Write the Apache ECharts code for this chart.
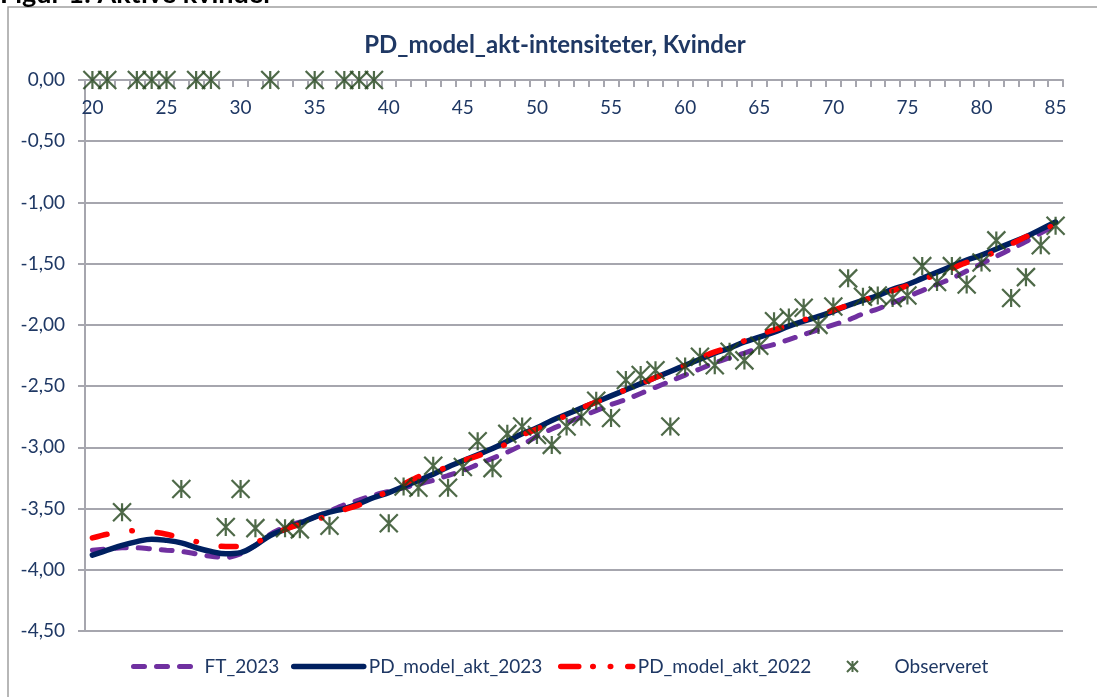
<!DOCTYPE html>
<html><head><meta charset="utf-8">
<script src="https://cdn.jsdelivr.net/npm/echarts@6/dist/echarts.min.js"></script>
<style>html,body{margin:0;padding:0;background:#fff;}#c{width:1097px;height:697px;}</style>
</head><body><div id="c"></div>
<script>
const ages = ['20','21','22','23','24','25','26','27','28','29','30','31','32','33','34','35','36','37','38','39','40','41','42','43','44','45','46','47','48','49','50','51','52','53','54','55','56','57','58','59','60','61','62','63','64','65','66','67','68','69','70','71','72','73','74','75','76','77','78','79','80','81','82','83','84','85'];

const ft2023 = [-3.84,-3.83,-3.82,-3.82,-3.83,-3.84,-3.85,-3.87,-3.89,-3.90,-3.87,-3.80,-3.71,-3.65,-3.61,-3.57,-3.52,-3.47,-3.43,-3.39,-3.36,-3.33,-3.30,-3.27,-3.23,-3.19,-3.14,-3.09,-3.04,-2.98,-2.91,-2.85,-2.80,-2.75,-2.70,-2.65,-2.61,-2.56,-2.51,-2.46,-2.41,-2.36,-2.31,-2.27,-2.23,-2.19,-2.16,-2.12,-2.08,-2.04,-2.00,-1.96,-1.91,-1.87,-1.82,-1.77,-1.72,-1.67,-1.62,-1.56,-1.50,-1.44,-1.38,-1.32,-1.25,-1.19];

const pd2023 = [-3.88,-3.84,-3.80,-3.77,-3.75,-3.76,-3.78,-3.82,-3.85,-3.87,-3.86,-3.80,-3.72,-3.67,-3.62,-3.57,-3.53,-3.50,-3.46,-3.41,-3.37,-3.32,-3.27,-3.22,-3.16,-3.11,-3.06,-3.01,-2.95,-2.89,-2.84,-2.78,-2.73,-2.68,-2.63,-2.58,-2.53,-2.48,-2.43,-2.38,-2.33,-2.28,-2.23,-2.19,-2.14,-2.10,-2.06,-2.01,-1.97,-1.93,-1.89,-1.84,-1.80,-1.76,-1.71,-1.67,-1.62,-1.57,-1.52,-1.47,-1.43,-1.38,-1.33,-1.28,-1.22,-1.16];

const pd2022 = [-3.74,-3.71,-3.69,-3.68,-3.69,-3.71,-3.74,-3.77,-3.80,-3.81,-3.81,-3.78,-3.72,-3.67,-3.63,-3.59,-3.56,-3.51,-3.47,-3.41,-3.36,-3.30,-3.24,-3.20,-3.16,-3.11,-3.07,-3.02,-2.97,-2.90,-2.85,-2.79,-2.74,-2.68,-2.63,-2.58,-2.53,-2.48,-2.43,-2.38,-2.33,-2.27,-2.22,-2.18,-2.13,-2.08,-2.04,-2.00,-1.96,-1.92,-1.88,-1.84,-1.80,-1.76,-1.72,-1.68,-1.63,-1.59,-1.54,-1.49,-1.45,-1.40,-1.34,-1.28,-1.23,-1.18];

const observeret = [0,0,-3.53,0,0,0,-3.34,0,0,-3.65,-3.34,-3.66,0,-3.66,-3.67,0,-3.64,0,0,0,-3.62,-3.32,-3.33,-3.15,-3.33,-3.16,-2.95,-3.17,-2.89,-2.83,-2.90,-2.98,-2.83,-2.75,-2.62,-2.76,-2.45,-2.41,-2.37,-2.83,-2.34,-2.26,-2.33,-2.22,-2.29,-2.17,-1.97,-1.94,-1.86,-2.00,-1.85,-1.62,-1.77,-1.76,-1.78,-1.76,-1.52,-1.65,-1.52,-1.67,-1.49,-1.31,-1.78,-1.61,-1.35,-1.19];

const yMin = -4.5, yMax = 0, yStep = 0.5;

const FONT = 'Lato';
const TXT = '#1F3864';
const GRID = '#A6A6AE';
const STAR = '#22441A';
const starPath = 'path://M0,0L12,12M12,0L0,12M6,0L6,12';
const purpleDash = [11, 12];
const redDash = [15, 25, 0.5, 25];

const chart = echarts.init(document.getElementById('c'), null, {renderer: 'canvas'});
const legendText = {fontFamily: FONT, fontSize: 19, color: TXT};
const hiddenSym = {color: 'rgba(0,0,0,0)', borderWidth: 0, opacity: 0};

chart.setOption({
  animation: false,
  backgroundColor: '#ffffff',
  graphic: [
    {type: 'rect', shape: {x: 8, y: 7, width: 1100, height: 700}, style: {fill: 'none', stroke: '#A0A0A0', lineWidth: 1.5}, silent: true},
    {type: 'text', x: 0, y: 8, style: {text: 'Figur 1: Aktive kvinder', font: 'bold 27px Lato', fill: '#000', align: 'left', verticalAlign: 'bottom'}},
    {type: 'text', x: 555, y: 45, style: {text: 'PD_model_akt-intensiteter, Kvinder', font: 'bold 24px Lato', fill: TXT, align: 'center', verticalAlign: 'middle'}}
  ],
  grid: {left: 85, right: 34, top: 80, bottom: 66, containLabel: false},
  legend: [
    {data: ['FT_2023'], left: 126, top: 652, itemWidth: 66, itemHeight: 10, textStyle: legendText,
      itemStyle: hiddenSym, lineStyle: {width: 5, type: purpleDash, cap: 'round', color: '#7030A0'}},
    {data: ['PD_model_akt_2023'], left: 286, top: 652, itemWidth: 70, itemHeight: 10, textStyle: legendText,
      itemStyle: hiddenSym, lineStyle: {width: 5.5, cap: 'round', color: '#002060'}},
    {data: ['PD_model_akt_2022'], left: 553, top: 652, itemWidth: 72, itemHeight: 10, textStyle: legendText,
      itemStyle: hiddenSym, lineStyle: {width: 5.5, type: [18, 14, 0.5, 17, 0.5, 17], cap: 'round', color: '#FF0000'}},
    {data: ['Observeret'], left: 841, top: 652, itemWidth: 74, itemHeight: 11, textStyle: legendText}
  ],
  xAxis: {
    type: 'category', data: ages, boundaryGap: true, position: 'top',
    axisLine: {show: true, onZero: false, lineStyle: {color: GRID, width: 2}},
    axisTick: {show: true, inside: true, interval: 0, length: 7, lineStyle: {color: GRID, width: 2}},
    axisLabel: {inside: true, interval: 4, color: TXT, fontFamily: FONT, fontSize: 19, margin: 18},
    splitLine: {show: false}
  },
  yAxis: {
    type: 'value', min: yMin, max: yMax, interval: yStep,
    axisLine: {show: true, lineStyle: {color: GRID, width: 2}},
    axisTick: {show: true, length: 7, lineStyle: {color: GRID, width: 2}},
    axisLabel: {color: TXT, fontFamily: FONT, fontSize: 19, margin: 20,
      formatter: v => (Math.abs(v) < 1e-9 ? 0 : v).toFixed(2).replace('.', ',')},
    splitLine: {show: true, lineStyle: {color: GRID, width: 2}}
  },
  series: [
    {name: 'FT_2023', type: 'line', data: ft2023, symbol: 'none', smooth: 0.3,
      lineStyle: {color: '#7030A0', width: 5, type: purpleDash, cap: 'round'}, itemStyle: {color: '#7030A0'}},
    {name: 'PD_model_akt_2023', type: 'line', data: pd2023, symbol: 'none', smooth: 0.4,
      lineStyle: {color: '#002060', width: 5.5, cap: 'round'}, itemStyle: {color: '#002060'}},
    {name: 'PD_model_akt_2022', type: 'line', data: pd2022, symbol: 'none', smooth: 0.3,
      lineStyle: {color: '#FF0000', width: 5.5, type: redDash, cap: 'round'}, itemStyle: {color: '#FF0000'}},
    {name: 'Observeret', type: 'scatter', data: observeret, symbol: starPath, symbolSize: 18, symbolKeepAspect: true,
      itemStyle: {color: 'rgba(0,0,0,0)', borderColor: STAR, borderWidth: 2.2}, z: 5}
  ]
});
</script>
</body></html>
